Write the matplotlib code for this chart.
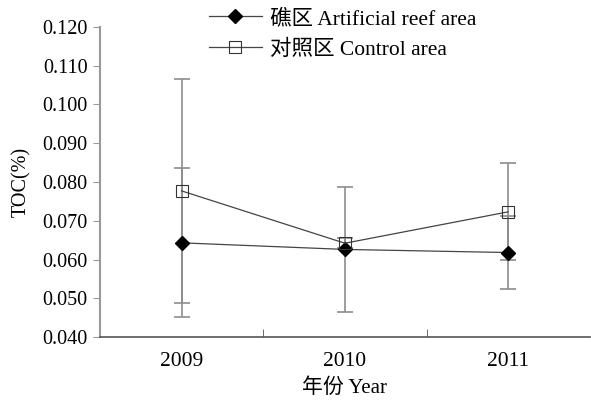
import matplotlib
matplotlib.use("Agg")
import matplotlib.pyplot as plt
import numpy as np

years = ["2009", "2010", "2011"]
reef = [0.0643, 0.0626, 0.0618]
reef_err = [0.0192, 0.0162, 0.0094]
control = [0.0777, 0.0642, 0.0723]
control_err = [0.0290, 0.0013, 0.0125]
yticks = [0.040, 0.050, 0.060, 0.070, 0.080, 0.090, 0.100, 0.110, 0.120]

serif = ["Liberation Serif", "Noto Sans CJK SC"]
plt.rcParams['font.family'] = serif
plt.rcParams['font.size'] = 15

fig = plt.figure(figsize=(5.91, 4.04), dpi=100)
ax = fig.add_axes([0.1692, 0.1658, 0.8288, 0.7674])

x = np.arange(len(years))
ax.errorbar(x, control, yerr=control_err, fmt='none', ecolor='#8c8c8c',
            elinewidth=1.2, capsize=5.5, capthick=1.2, zorder=2)
ax.errorbar(x, reef, yerr=reef_err, fmt='none', ecolor='#8c8c8c',
            elinewidth=1.2, capsize=5.5, capthick=1.2, zorder=2)
ax.plot(x, reef, color='#444444', lw=0.9, marker='D', ms=7,
        mfc='black', mec='black', label='礁区 Artificial reef area', zorder=3)
ax.plot(x, control, color='#444444', lw=0.9, marker='s', ms=8.5,
        mfc='none', mec='#333333', mew=0.8, label='对照区 Control area', zorder=3)

ax.set_xlim(-0.5, 2.5)
ax.set_ylim(0.040, 0.120)
ax.set_yticks(yticks)
ax.set_yticklabels([f"{v:.3f}" for v in yticks], fontsize=14.5)
ax.set_xticks(x)
ax.set_xticklabels(years, fontsize=15.5)
ax.tick_params(axis='x', which='major', length=0, pad=11)
ax.set_xticks([0.5, 1.5], minor=True)
ax.tick_params(axis='x', which='minor', direction='in', length=6, color='#555555')
ax.tick_params(axis='y', direction='out', length=5, color='#999999', pad=4)

for s in ['top', 'right']:
    ax.spines[s].set_visible(False)
ax.spines['left'].set_color('#999999')
ax.spines['left'].set_linewidth(1.5)
ax.spines['bottom'].set_color('#555555')
ax.spines['bottom'].set_linewidth(1.2)

ax.set_xlabel('年份 Year', fontsize=15, labelpad=5)
ax.set_ylabel('TOC(%)', fontsize=14.5, labelpad=8)

leg = ax.legend(loc='upper left', bbox_to_anchor=(0.182, 1.121), frameon=False,
                handlelength=2.5, labelspacing=0.5, handletextpad=0.37,
                fontsize=15.5)

fig.savefig('out.png', dpi=100)
